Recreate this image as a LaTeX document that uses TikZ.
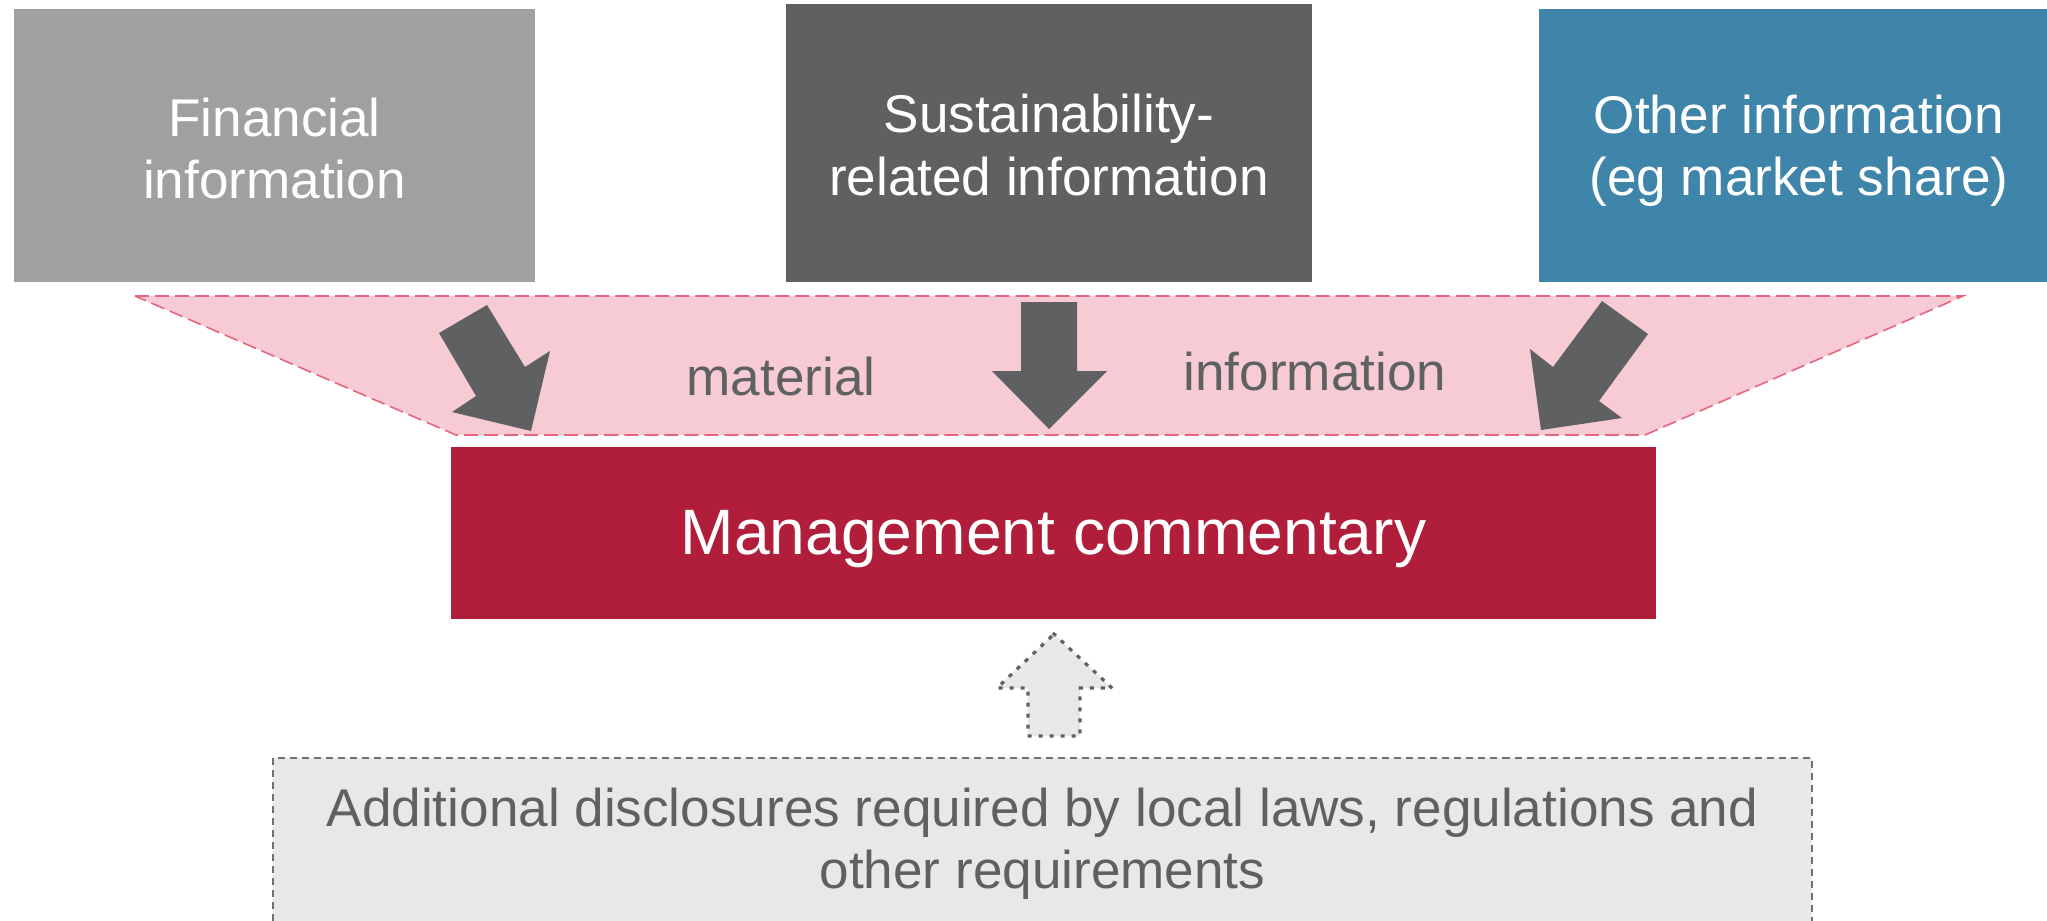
\documentclass[tikz,border=0pt]{standalone}
\usepackage{fontspec}
\setmainfont{Liberation Sans}
\definecolor{fingray}{HTML}{A0A0A0}
\definecolor{darkgray}{HTML}{5F6062}
\definecolor{otherblue}{HTML}{3F84A9}
\definecolor{mcred}{HTML}{B01E3B}
\definecolor{funnelpink}{HTML}{F6CBD3}
\definecolor{funneledge}{HTML}{E8647E}
\definecolor{lightfill}{HTML}{E8E8E8}
\definecolor{textgray}{HTML}{5F6062}
\begin{document}
\begin{tikzpicture}[x=0.01cm,y=-0.01cm,
  txt/.style={font=\fontsize{15.1pt}{17.7pt}\selectfont, align=center, inner sep=0pt},
  topbox/.style={draw=none, inner sep=0pt, minimum height=2.73cm},
  toptext/.style={txt, text=white},
  blockarrow/.style={fill=darkgray, draw=none},
  funnel/.style={fill=funnelpink, draw=funneledge, line width=0.45pt, dash pattern=on 0.14cm off 0.06cm},
  mcbox/.style={fill=mcred, inner sep=0pt, minimum width=12.05cm, minimum height=1.72cm},
  mctext/.style={text=white, font=\fontsize{18.25pt}{21pt}\selectfont, inner sep=0pt},
  dottedarrow/.style={fill=lightfill, draw=darkgray, line width=0.9pt, line cap=rect, dash pattern=on 0.01cm off 0.1cm},
  addbox/.style={fill=lightfill, draw=darkgray!90, line width=0.45pt, dash pattern=on 0.07cm off 0.05cm},
  lbl/.style={txt, text=textgray}
]
\useasboundingbox (0,0) rectangle (2047,920);
\clip (0,0) rectangle (2047,920);

% top boxes
\node[topbox, fill=fingray, minimum width=5.21cm] (fin) at (274.5,145.5) {};
\node[toptext] (fintxt) at ([yshift=-0.8pt]fin.center) {Financial\\information};
\node[topbox, fill=darkgray, minimum width=5.26cm, minimum height=2.78cm] (sus) at (1049,143) {};
\node[toptext] (sustxt) at ([yshift=-0.6pt]sus.center) {Sustainability-\\related information};
\node[topbox, fill=otherblue, minimum width=5.20cm] (oth) at (1799,145.5) {};
\node[toptext] (othtxt) at ([yshift=-1.6pt]oth.center) {Other information\\(eg market share)};

% funnel
\path[funnel] (135,296) coordinate (ftl) -- (1963,296) coordinate (ftr) -- (1645,435) coordinate (fbr) -- (456,435) coordinate (fbl) -- cycle;

% block arrows
\fill[blockarrow] (439,333) -- (487,305) -- (525,367) -- (550,351) -- (531,431) -- (452,412) -- (476,396) -- cycle;
\fill[blockarrow] (1021,302) -- (1077,302) -- (1077,371) -- (1107,371) -- (1049,429) -- (992,371) -- (1021,371) -- cycle;
\fill[blockarrow] (1602,301) -- (1648,334) -- (1599,401) -- (1622,418) -- (1541,430) -- (1530,349) -- (1553,367) -- cycle;

% labels in funnel
\node[lbl] (mat) at (781,377) {material};
\node[lbl] (inf) at (1315,372) {information};

% management commentary
\node[mcbox] (mc) at (1053.5,533) {};
\node[mctext] (mctxt) at ([yshift=-1.6pt]mc.center) {Management commentary};

% dotted up arrow
\path[dottedarrow] (1054,634) -- (1112,688) -- (1080,688) -- (1080,736) -- (1028,736) -- (1028,688) -- (997,688) -- cycle;

% additional disclosures box
\path[addbox] (273,758) rectangle (1812,990);
\node[lbl] (add) at (1042.5,844) {Additional disclosures required by local laws, regulations and\\other requirements};
\end{tikzpicture}
\end{document}
